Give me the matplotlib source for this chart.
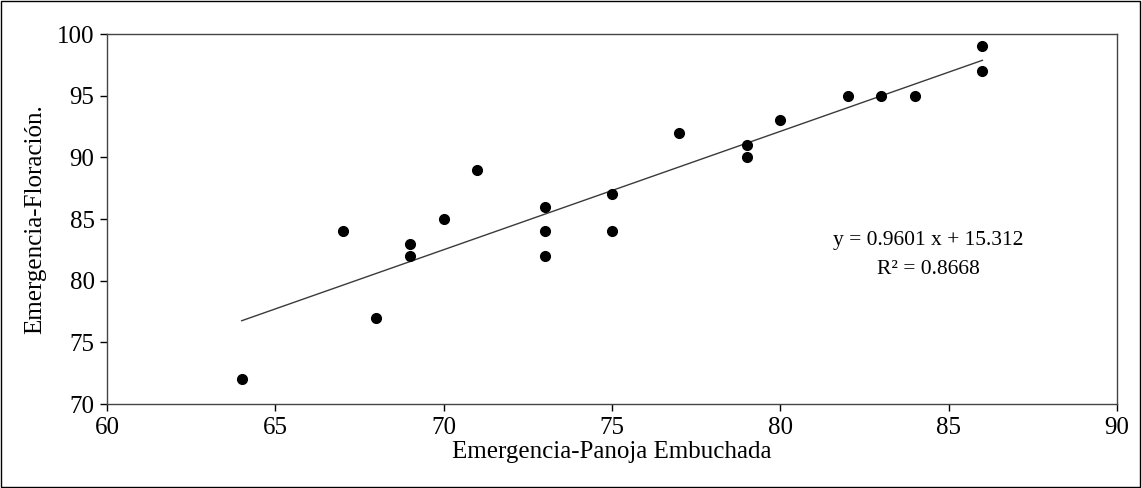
import numpy as np
import matplotlib.pyplot as plt
from matplotlib.patches import Rectangle

plt.rcParams['font.family'] = ['Liberation Serif', 'DejaVu Serif']

# days from emergence to booting panicle vs. days to flowering
panoja = [64, 67, 68, 69, 69, 70, 71, 73, 73, 73, 75, 75, 77, 79, 79, 80, 82, 83, 84, 86, 86]
floracion = [72, 84, 77, 83, 82, 85, 89, 86, 84, 82, 87, 84, 92, 91, 90, 93, 95, 95, 95, 99, 97]

slope = 0.9601
intercept = 15.312
r2 = 0.8668

fig = plt.figure(figsize=(11.42, 4.88), dpi=100)
ax = fig.add_axes([0.0937, 0.172, 0.8845, 0.758])

# linear trend over the observed range
xs = np.array([min(panoja), max(panoja)])
ax.plot(xs, slope * xs + intercept, color='#3a3a3a', lw=1.0, zorder=2)
ax.plot(panoja, floracion, 'o', color='black', markersize=7, zorder=3)

ax.set_xlim(60, 90)
ax.set_ylim(70, 100)
ax.set_xticks(np.arange(60, 91, 5))
ax.set_yticks(np.arange(70, 101, 5))
ax.tick_params(direction='out', length=5, width=1, labelsize=18, colors='black', pad=4)
for sp in ax.spines.values():
    sp.set_linewidth(1.0)
    sp.set_color('#444444')

ax.set_xlabel('Emergencia-Panoja Embuchada', fontsize=18, labelpad=2)
ax.set_ylabel('Emergencia-Floración.', fontsize=18, labelpad=8)

ax.text(84.4, 83.3, 'y = %.4f x + %.3f' % (slope, intercept), ha='center', va='center', fontsize=15.5)
ax.text(84.4, 80.9, 'R² = %.4f' % r2, ha='center', va='center', fontsize=15.5)

# thin frame around the whole figure
fig.patches.append(Rectangle((0.001, 0.002), 0.997, 0.995, transform=fig.transFigure,
                             fill=False, edgecolor='black', lw=1.0))

fig.savefig('out.png', dpi=100)
